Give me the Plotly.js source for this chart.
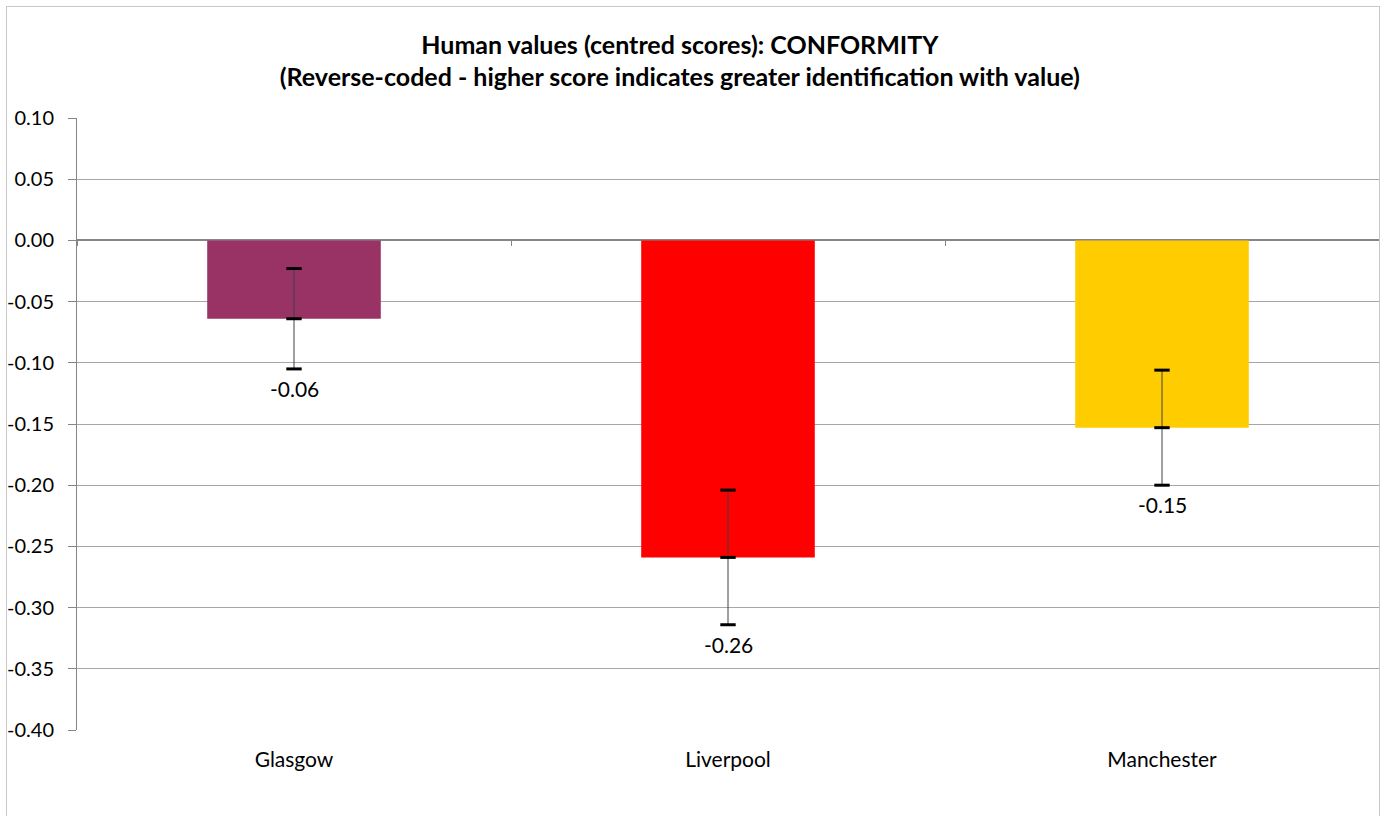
<!DOCTYPE html>
<html>
<head>
<meta charset="utf-8">
<script src="https://cdn.plot.ly/plotly-3.0.1.min.js"></script>
<style>
  html, body { margin: 0; padding: 0; background: #fff; }
  #wrap { position: relative; width: 1386px; height: 816px; overflow: hidden; }
  #chart { position: absolute; left: 0; top: 0; width: 1386px; height: 816px; }
  #frame { position: absolute; left: 6px; top: 6px; width: 1372px; height: 830px;
           border: 1px solid #c8c8c8; pointer-events: none; }
</style>
</head>
<body>
<div id="wrap">
  <div id="chart"></div>
  <div id="frame"></div>
</div>
<script>
const categories = ["Glasgow", "Liverpool", "Manchester"];
const values = [-0.064, -0.259, -0.153];
const errors = [0.041, 0.055, 0.047];
const barColors = ["#993366", "#FF0000", "#FFCC00"];
const titleLines = [
  "Human values (centred scores): CONFORMITY",
  "(Reverse-coded - higher score indicates greater identification with value)"
];
const yTicks = [0.10, 0.05, 0.00, -0.05, -0.10, -0.15, -0.20, -0.25, -0.30, -0.35, -0.40];

const FONT = "Lato, 'Open Sans', sans-serif";

const barTrace = {
  type: "bar",
  x: categories,
  y: values,
  marker: { color: barColors, line: { width: 0 } },
  width: 0.4,
  error_y: {
    type: "data",
    array: errors,
    visible: true,
    color: "#404040",
    thickness: 1,
    width: 0
  },
  hoverinfo: "x+y",
  showlegend: false
};

// caps (top, middle, bottom) of each error bar
const capX = [], capY = [];
categories.forEach((c, i) => {
  capX.push(c, c, c);
  capY.push(values[i] + errors[i], values[i], values[i] - errors[i]);
});
const capTrace = {
  type: "scatter",
  mode: "markers",
  x: capX,
  y: capY,
  marker: { symbol: "line-ew", size: 11, line: { width: 3, color: "#000" } },
  hoverinfo: "skip",
  showlegend: false
};

const axisTrace = {
  type: "scatter",
  mode: "markers",
  x: categories,
  y: values,
  xaxis: "x2",
  marker: { opacity: 0 },
  hoverinfo: "skip",
  showlegend: false
};

const annotations = categories.map((c, i) => ({
  x: c,
  y: values[i] - errors[i],
  xref: "x",
  yref: "y",
  text: values[i].toFixed(2),
  showarrow: false,
  yanchor: "top",
  yshift: -5,
  font: { family: FONT, size: 21, color: "#000" }
}));

const layout = {
  width: 1386,
  height: 816,
  margin: { l: 77, r: 7, t: 118, b: 86 },
  paper_bgcolor: "#fff",
  plot_bgcolor: "#fff",
  font: { family: FONT, size: 20, color: "#000" },
  title: {
    text: "<b>" + titleLines[0] + "</b><br><b>" + titleLines[1] + "</b>",
    font: { family: FONT, size: 25, color: "#000" },
    xref: "paper",
    x: 0.463,
    xanchor: "center",
    y: 0.934,
    yanchor: "middle"
  },
  xaxis: {
    type: "category",
    categoryorder: "array",
    categoryarray: categories,
    range: [-0.5, 2.5],
    showgrid: false,
    zeroline: false,
    showline: false,
    ticks: "",
    tickfont: { family: FONT, size: 21, color: "#000" },
    ticklabelstandoff: 15
  },
  xaxis2: {
    type: "category",
    categoryorder: "array",
    categoryarray: categories,
    range: [-0.5, 2.5],
    overlaying: "x",
    anchor: "free",
    position: 0.8,
    side: "bottom",
    showgrid: false,
    zeroline: false,
    showline: false,
    showticklabels: false,
    ticks: "outside",
    tickson: "boundaries",
    ticklen: 5,
    tickcolor: "#868686",
    tickwidth: 1
  },
  yaxis: {
    range: [-0.4, 0.1],
    tickvals: yTicks,
    ticktext: yTicks.map(v => v.toFixed(2)),
    showgrid: true,
    gridcolor: "#a6a6a6",
    gridwidth: 1,
    zeroline: true,
    zerolinecolor: "#868686",
    zerolinewidth: 2,
    showline: true,
    linecolor: "#868686",
    linewidth: 1,
    ticks: "outside",
    ticklen: 8,
    tickcolor: "#868686",
    ticklabelstandoff: 10,
    tickfont: { family: FONT, size: 20, color: "#000" },
    fixedrange: true
  },
  bargap: 0.6,
  annotations: annotations,
  showlegend: false
};

Plotly.newPlot("chart", [barTrace, capTrace, axisTrace], layout, { displayModeBar: false, staticPlot: true });
</script>
</body>
</html>
